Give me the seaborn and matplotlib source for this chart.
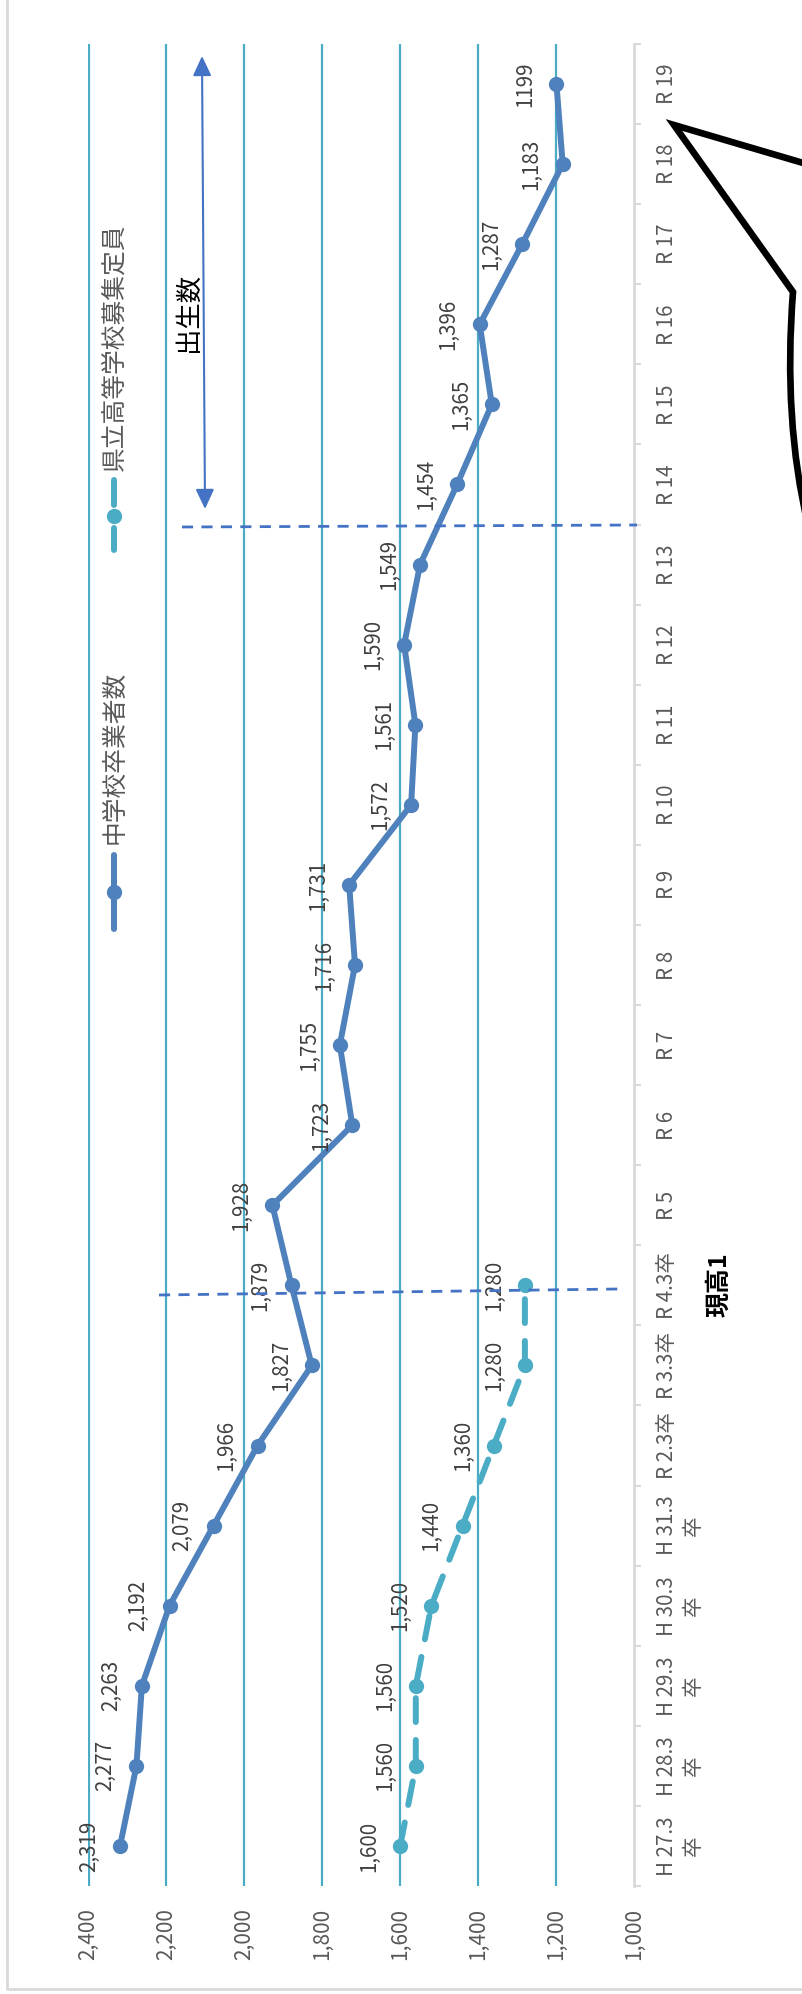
import numpy as np
import pandas as pd
import matplotlib
matplotlib.use("Agg")
import matplotlib.pyplot as plt
import seaborn as sns
from matplotlib.lines import Line2D
from matplotlib.patches import FancyArrowPatch, PathPatch
from matplotlib.path import Path

# ---------------- data ----------------
categories = ["H 27.3\n卒", "H 28.3\n卒", "H 29.3\n卒", "H 30.3\n卒", "H 31.3\n卒",
              "R 2.3卒", "R 3.3卒", "R 4.3卒", "R 5", "R 6", "R 7", "R 8", "R 9",
              "R 10", "R 11", "R 12", "R 13", "R 14", "R 15", "R 16", "R 17", "R 18", "R 19"]
graduates = [2319, 2277, 2263, 2192, 2079, 1966, 1827, 1879, 1928, 1723, 1755, 1716, 1731,
             1572, 1561, 1590, 1549, 1454, 1365, 1396, 1287, 1183, 1199]
capacity = [1600, 1560, 1560, 1520, 1440, 1360, 1280, 1280]
grad_labels = ["2,319", "2,277", "2,263", "2,192", "2,079", "1,966", "1,827", "1,879", "1,928",
               "1,723", "1,755", "1,716", "1,731", "1,572", "1,561", "1,590", "1,549", "1,454",
               "1,365", "1,396", "1,287", "1,183", "1199"]
cap_labels = ["1,600", "1,560", "1,560", "1,520", "1,440", "1,360", "1,280", "1,280"]
value_ticks = [1000, 1200, 1400, 1600, 1800, 2000, 2200, 2400]
value_tick_labels = ["1,000", "1,200", "1,400", "1,600", "1,800", "2,000", "2,200", "2,400"]
series_names = ["中学校卒業者数", "県立高等学校募集定員"]
note_birth = "出生数"
note_now = "現高1"

# ---------------- style ----------------
sns.set_theme(style="white")
plt.rcParams['font.family'] = ['Noto Sans CJK JP', 'DejaVu Sans']

C1 = "#4F81BD"
C2 = "#4BACC6"
CSHAPE = "#4472C4"
GRID = "#4BACC6"
AXC = "#D9D9D9"
TXT = "#595959"

W, H = 803, 1994
fig = plt.figure(figsize=(W / 100, H / 100), dpi=100)
fig.patch.set_facecolor("white")


def fx(x):
    return x / W


def fy(y):
    return 1 - y / H


ax_left, ax_right, ax_top, ax_bottom = 88.5, 634, 44, 1886
ax = fig.add_axes([fx(ax_left), fy(ax_bottom), (ax_right - ax_left) / W, (ax_bottom - ax_top) / H])
ax.set_facecolor("white")

pos = np.arange(len(categories))
df1 = pd.DataFrame({"value": graduates, "pos": pos})
df2 = pd.DataFrame({"value": capacity, "pos": pos[:len(capacity)]})

sns.lineplot(data=df1, x="value", y="pos", sort=False, estimator=None, orient="y",
             color=C1, lw=4.3, marker="o", markersize=11, markeredgewidth=0,
             solid_capstyle="round", ax=ax, zorder=4)
sns.lineplot(data=df2, x="value", y="pos", sort=False, estimator=None, orient="y",
             color=C2, lw=4.3, marker="o", markersize=11, markeredgewidth=0,
             linestyle=(0, (4, 3)), dash_capstyle="round", ax=ax, zorder=4)

ax.set_xlim(2400, 1000)
ax.set_ylim(-0.5, len(categories) - 0.5)
ax.set_xlabel("")
ax.set_ylabel("")

# value axis (bottom)
ax.set_xticks(value_ticks)
ax.set_xticklabels(value_tick_labels)
ax.tick_params(axis="x", length=0, pad=16, labelsize=15, labelcolor=TXT, labelrotation=90)
ax.xaxis.grid(True, color=GRID, lw=1.6)
ax.yaxis.grid(False)
ax.xaxis.get_gridlines()[0].set_visible(False)
ax.set_axisbelow(True)

# category axis (right)
ax.yaxis.tick_right()
ax.set_yticks(pos)
ax.set_yticklabels(categories)
ax.set_yticks(np.arange(-0.5, len(categories), 1.0), minor=True)
ax.tick_params(axis="y", which="major", length=0, pad=16, labelsize=14.8,
               labelcolor=TXT, labelrotation=90, right=True, left=False)
ax.tick_params(axis="y", which="minor", length=5, width=1.5, color=AXC,
               direction="out", right=True, left=False)
for lab in ax.get_yticklabels():
    lab.set_va("center")
    lab.set_ha("left")
    lab.set_multialignment("center")

for s in ["top", "left", "bottom"]:
    ax.spines[s].set_visible(False)
ax.spines["right"].set_color(AXC)
ax.spines["right"].set_linewidth(2)

# data labels
for v, p, t in zip(graduates, pos, grad_labels):
    ax.annotate(t, (v, p), xytext=(-31, 0), textcoords="offset pixels", rotation=90,
                ha="center", va="center", fontsize=14.8, color="#404040", zorder=5)
for v, p, t in zip(capacity, pos, cap_labels):
    ax.annotate(t, (v, p), xytext=(-31, 0), textcoords="offset pixels", rotation=90,
                ha="center", va="center", fontsize=14.8, color="#404040", zorder=5)

# ---------------- legend (rotated) ----------------
lx = 114.5
fig.add_artist(Line2D([fx(lx)] * 2, [fy(929), fy(855)], transform=fig.transFigure,
                      color=C1, lw=4.3, solid_capstyle="round"))
fig.add_artist(Line2D([fx(lx)], [fy(892)], transform=fig.transFigure, color=C1,
                      marker="o", markersize=11, markeredgewidth=0))
fig.text(fx(lx), fy(757), series_names[0], rotation=90, ha="center", va="center",
         fontsize=17.8, color=TXT)
fig.add_artist(Line2D([fx(lx)] * 2, [fy(550), fy(528)], transform=fig.transFigure,
                      color=C2, lw=4.3, solid_capstyle="round"))
fig.add_artist(Line2D([fx(lx)] * 2, [fy(505), fy(480)], transform=fig.transFigure,
                      color=C2, lw=4.3, solid_capstyle="round"))
fig.add_artist(Line2D([fx(lx)], [fy(516)], transform=fig.transFigure, color=C2,
                      marker="o", markersize=11, markeredgewidth=0))
fig.text(fx(lx), fy(347), series_names[1], rotation=90, ha="center", va="center",
         fontsize=17.8, color=TXT)

# ---------------- annotation shapes ----------------
fig.add_artist(Line2D([fx(159), fx(618)], [fy(1295), fy(1289)], transform=fig.transFigure,
                      color=CSHAPE, lw=2.0, linestyle=(0, (4, 3)), zorder=6))
fig.add_artist(Line2D([fx(182), fx(637)], [fy(527), fy(525)], transform=fig.transFigure,
                      color=CSHAPE, lw=2.0, linestyle=(0, (4, 3)), zorder=6))
fig.add_artist(FancyArrowPatch((fx(202), fy(56)), (fx(205), fy(509)), transform=fig.transFigure,
                               arrowstyle="<|-|>,head_length=0.6,head_width=0.28",
                               mutation_scale=20, color=CSHAPE, lw=1.5,
                               shrinkA=0, shrinkB=0, zorder=6))
fig.text(fx(188), fy(312), note_birth, rotation=90, ha="center", va="center",
         fontsize=19, color="black")
fig.text(fx(719), fy(1285), note_now, rotation=90, ha="center", va="center",
         fontsize=18, color="black", fontweight="bold")

verts = [(fx(810), fy(165)), (fx(674), fy(125)), (fx(793), fy(292)),
         (fx(783), fy(420)), (fx(808), fy(525))]
codes = [Path.MOVETO, Path.LINETO, Path.LINETO, Path.CURVE3, Path.CURVE3]
fig.add_artist(PathPatch(Path(verts, codes), transform=fig.transFigure, facecolor="none",
                         edgecolor="black", lw=4.8, joinstyle="miter", zorder=7))

# chart area border (left and bottom visible)
fig.add_artist(Line2D([fx(7), fx(7), fx(810)], [fy(-5), fy(1989), fy(1989)],
                      transform=fig.transFigure, color=AXC, lw=2))

fig.savefig("out.png", dpi=100, facecolor="white")
